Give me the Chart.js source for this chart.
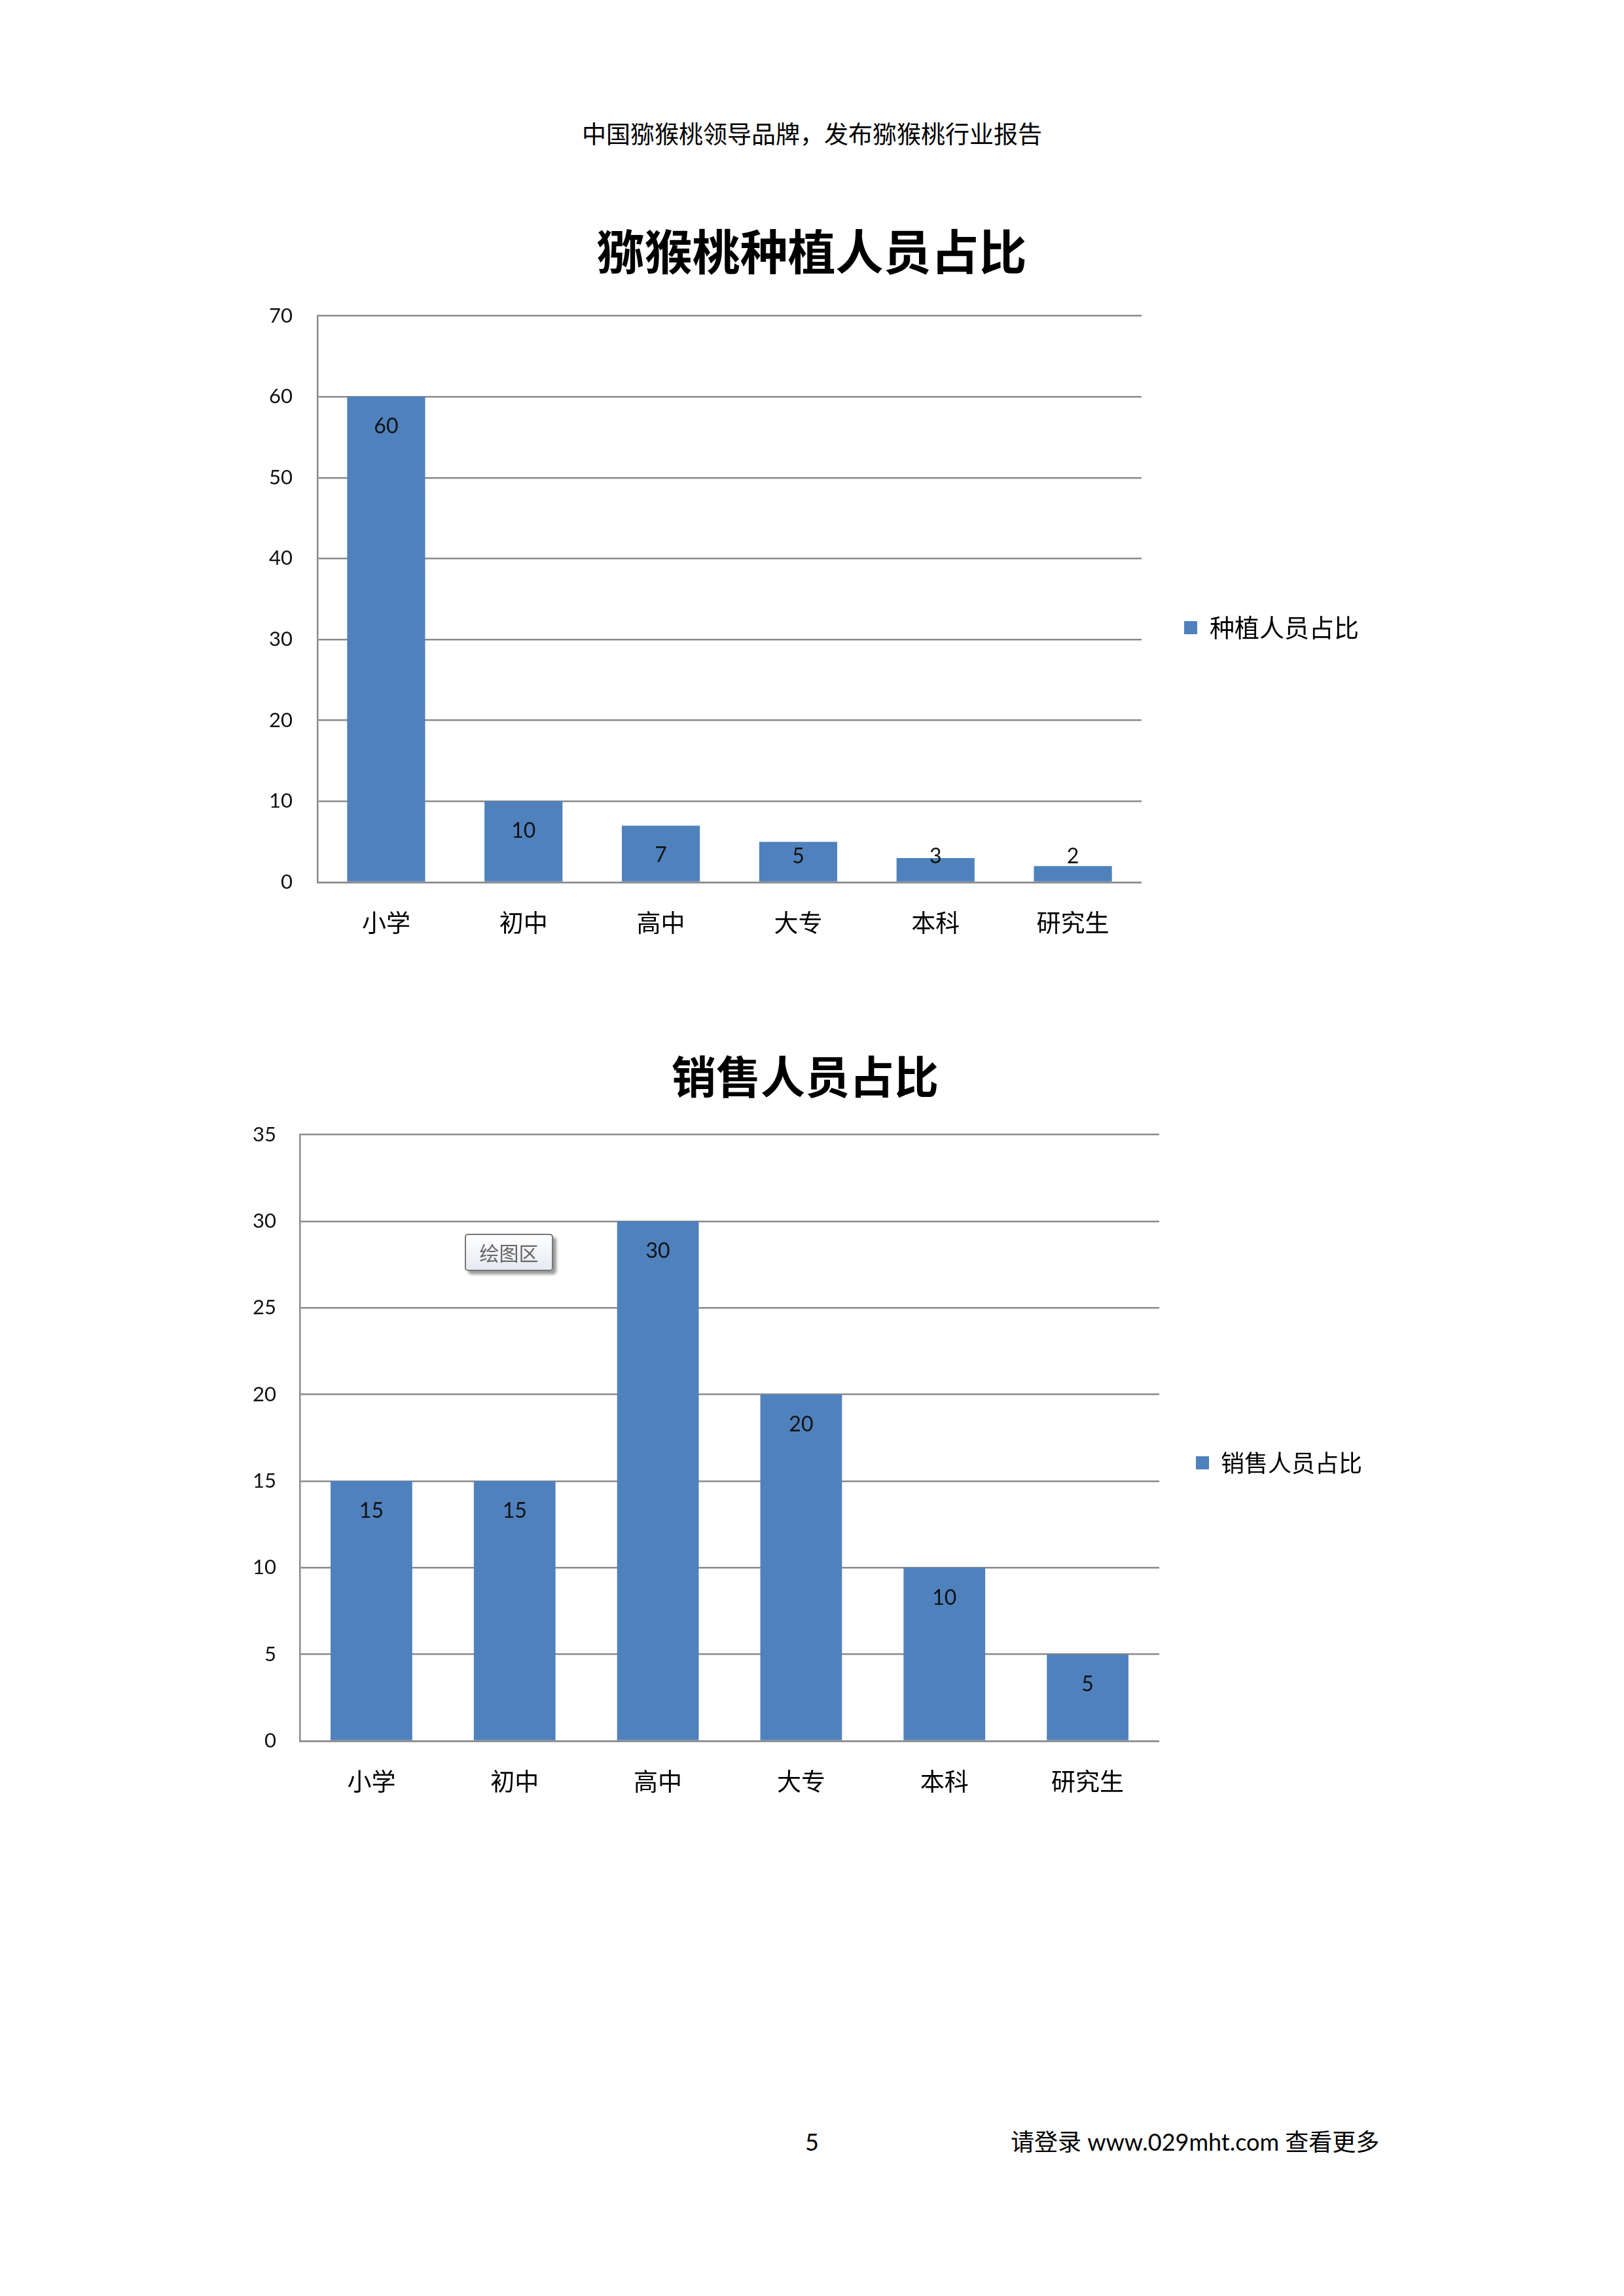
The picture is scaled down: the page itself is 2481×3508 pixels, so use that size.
<!DOCTYPE html>
<html>
<head>
<meta charset="utf-8">
<script src="https://cdn.jsdelivr.net/npm/chart.js@4"></script>
<style>
  body { margin: 0; width: 2481px; height: 3508px; background: #fff; position: relative; overflow: hidden; }
  .txt { position: absolute; font-family: "Noto Sans CJK SC", sans-serif; color: #000; white-space: nowrap; }
  .box { position: absolute; }
  #tip { position: absolute; left: 710px; top: 1885px; width: 131px; height: 53px; border: 2px solid #777; border-radius: 5px;
         background: linear-gradient(#ffffff, #e6e9f0); box-shadow: 5px 5px 4px #999;
         font: 30px "Noto Sans CJK SC", sans-serif; color: #666; text-align: center; line-height: 53px; }
</style>
</head>
<body>
<div class="txt" style="left:0; width:2481px; top:180px; font-size:37px; line-height:46px; text-align:center;">中国猕猴桃领导品牌，发布猕猴桃行业报告</div>

<div class="box" style="left:330px; top:300px; width:1820px; height:1318px;"><canvas id="chartPlant"></canvas></div>
<div class="box" style="left:330px; top:1560px; width:1800px; height:1350px;"><canvas id="chartSales"></canvas></div>

<div id="tip">绘图区</div>

<div class="txt" style="left:1230px; top:3250px; font-size:36px; line-height:44px; font-family:Lato, sans-serif;">5</div>
<div class="txt" style="left:1544px; top:3250px; font-size:36px; line-height:44px; font-family:Lato, 'Noto Sans CJK SC', sans-serif;">请登录 www.029mht.com 查看更多</div>

<script>
const categories = ['小学', '初中', '高中', '大专', '本科', '研究生'];
const plantValues = [60, 10, 7, 5, 3, 2];
const salesValues = [15, 15, 30, 20, 10, 5];
const plantTicks = [0, 10, 20, 30, 40, 50, 60, 70];
const salesTicks = [0, 5, 10, 15, 20, 25, 30, 35];

const cjk = "'Noto Sans CJK SC', sans-serif";
const num = "Lato, 'Noto Sans CJK SC', sans-serif";
const gridColor = '#8a8a8a';

// value labels just under the top of each bar, like excel "inside end"
const barLabels = {
  id: 'barLabels',
  afterDatasetsDraw(chart, args, opts) {
    const ctx = chart.ctx;
    const meta = chart.getDatasetMeta(0);
    const values = chart.data.datasets[0].data;
    ctx.save();
    ctx.font = opts.font;
    ctx.fillStyle = '#111';
    ctx.textAlign = 'center';
    ctx.textBaseline = 'middle';
    meta.data.forEach((bar, i) => {
      const y = Math.min(bar.y + opts.offset, bar.base - opts.minLift);
      ctx.fillText(values[i], bar.x, y);
    });
    ctx.restore();
  }
};

function makeChart(id, label, values, ticks, o) {
  return new Chart(document.getElementById(id), {
    type: 'bar',
    data: {
      labels: categories,
      datasets: [{
        label: label,
        data: values,
        backgroundColor: '#4F81BD',
        borderWidth: 0,
        categoryPercentage: o.catPct,
        barPercentage: 1
      }]
    },
    options: {
      responsive: true,
      maintainAspectRatio: false,
      devicePixelRatio: 1,
      animation: false,
      layout: { padding: { left: o.pad, right: o.pad, top: 0, bottom: 0 } },
      scales: {
        x: {
          grid: { display: false, drawTicks: false },
          border: { display: true, color: gridColor, width: 2.5 },
          ticks: { color: '#000', font: { family: cjk, size: 37 }, padding: 40 },
          afterFit: (s) => { s.height = o.xHeight; }
        },
        y: {
          min: 0,
          max: ticks[ticks.length - 1],
          afterBuildTicks: (s) => { s.ticks = ticks.map(v => ({ value: v })); },
          grid: { color: gridColor, lineWidth: 2.5, drawTicks: false },
          border: { display: true, color: gridColor, width: 2.5 },
          ticks: { color: '#111', font: { family: num, size: 31 }, padding: o.yPad },
          afterFit: (s) => { s.width = o.yWidth; }
        }
      },
      plugins: {
        title: {
          display: true,
          text: o.title,
          color: '#000',
          font: { family: cjk, size: o.titleSize, weight: 'bold', lineHeight: 1.2 },
          padding: { top: o.titleTop, bottom: o.titleBottom }
        },
        legend: {
          position: 'right',
          labels: {
            boxWidth: 20,
            boxHeight: 20,
            color: '#000',
            font: { family: cjk, size: o.legendSize },
            padding: o.legendPad
          }
        },
        tooltip: { enabled: false },
        barLabels: { font: '32px ' + num, offset: o.labelOffset, minLift: 38 }
      }
    },
    plugins: [barLabels]
  });
}

makeChart('chartPlant', '种植人员占比', plantValues, plantTicks, {
  title: '猕猴桃种植人员占比', titleSize: 73, titleTop: 40, titleBottom: 55,
  catPct: 0.568, pad: 64, xHeight: 270, yWidth: 91, yPad: 38,
  legendSize: 38, legendPad: 65, labelOffset: 45
});

makeChart('chartSales', '销售人员占比', salesValues, salesTicks, {
  title: '销售人员占比', titleSize: 68, titleTop: 44, titleBottom: 48,
  catPct: 0.57, pad: 39, xHeight: 250, yWidth: 89, yPad: 36,
  legendSize: 36, legendPad: 56, labelOffset: 46
});
</script>
</body>
</html>
